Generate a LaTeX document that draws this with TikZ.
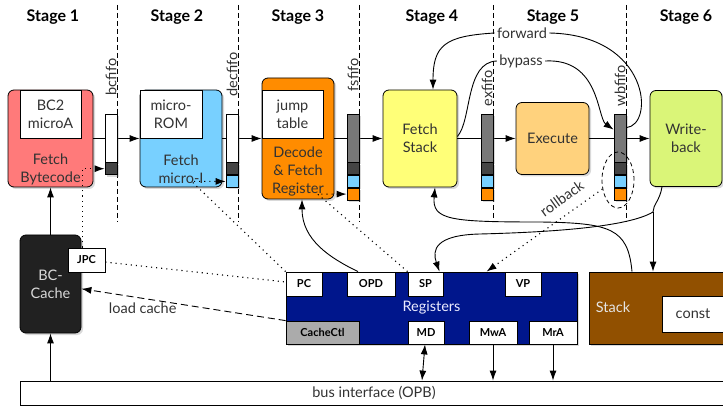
\documentclass[tikz,border=0pt]{standalone}
\usepackage{fontspec}
\setmainfont{Lato}
\usetikzlibrary{positioning, calc, shapes.geometric, shadows, arrows.meta}

\definecolor{bcred}{RGB}{255,122,122}
\definecolor{ublue}{RGB}{120,208,255}
\definecolor{decorange}{RGB}{255,140,0}
\definecolor{fsyellow}{RGB}{255,255,120}
\definecolor{exorange}{RGB}{255,210,125}
\definecolor{wbgreen}{RGB}{218,245,120}
\definecolor{regnavy}{RGB}{0,22,140}
\definecolor{stkbrown}{RGB}{145,80,0}
\definecolor{fifogray}{RGB}{120,120,120}
\definecolor{fifodark}{RGB}{68,68,68}
\definecolor{txtgray}{RGB}{50,50,50}

\tikzset{
  unit box/.style={draw, rounded corners=6pt, line width=0.8pt, text=txtgray, align=center,
    drop shadow={opacity=0.3, shadow xshift=2pt, shadow yshift=-2pt}},
  inner box/.style={draw, fill=white, line width=0.8pt, text=txtgray, align=center, inner sep=0pt},
  box text/.style={text=txtgray, align=center},
  fifo/.style={draw, line width=0.7pt, minimum width=12pt, minimum height=48pt, inner sep=0pt,
    drop shadow={opacity=0.3, shadow xshift=2pt, shadow yshift=-2pt}},
  slot/.style={draw, line width=0.7pt, minimum width=12pt, minimum height=12pt, inner sep=0pt,
    drop shadow={opacity=0.3, shadow xshift=2pt, shadow yshift=-2pt}},
  fifo label/.style={rotate=90, anchor=west, text=txtgray, inner sep=1pt},
  flow label/.style={text=txtgray, inner sep=2pt},
  reg/.style={draw, fill=white, line width=0.8pt, font=\fontsize{11}{13}\selectfont\bfseries,
    minimum height=24pt, inner sep=0pt},
  feed/.style={->, line width=1.1pt, dash pattern=on 1.1pt off 4pt},
  stage line/.style={line width=0.8pt, dash pattern=on 5pt off 3pt},
}

\begin{document}
\begin{tikzpicture}[x=1pt, y=-1pt, line width=0.9pt, font=\fontsize{14.5}{18}\selectfont,
    >={Latex[length=10pt,width=7pt]}]
  \useasboundingbox (0,0) rectangle (723,406);

  % stage titles and stage boundaries
  \foreach \x/\n in {53/1, 177/2, 298/3, 432/4, 553/5, 686/6}
    \node[font=\fontsize{16}{19}\selectfont\bfseries] (stage\n) at (\x,17) {Stage \n};
  \foreach \x in {117,238,359,493,626}
    \draw[stage line] (\x,5) -- (\x,222);

  % pipeline units
  \node[unit box, fill=bcred, minimum width=85pt, minimum height=97pt] (fb) at (50.5,138.5) {};
  \node[inner box, minimum width=61pt, minimum height=48pt] (bc2) at (50.5,114) {BC2\\microA};
  \node[box text] (fbtext) at (50.5,169) {Fetch\\Bytecode};

  \node[unit box, fill=ublue, minimum width=82pt, minimum height=97pt] (fm) at (181,138.5) {};
  \node[inner box, minimum width=62pt, minimum height=48pt] (urom) at (171,114) {micro-\\ROM};
  \node[box text] (fmtext) at (181,169) {Fetch\\micro-I};

  \node[unit box, fill=decorange, minimum width=72pt, minimum height=121pt] (dec) at (298,138.5) {};
  \node[inner box, minimum width=61pt, minimum height=48pt] (jump) at (292.5,114) {jump\\table};
  \node[box text] (dectext) at (298,171) {Decode\\\& Fetch\\Register};

  \node[unit box, fill=fsyellow, minimum width=74pt, minimum height=97pt] (fs) at (420,138.5) {Fetch\\Stack};
  \node[unit box, fill=exorange, minimum width=73pt, minimum height=72pt] (ex) at (552.5,138.5) {Execute};
  \node[unit box, fill=wbgreen, minimum width=72pt, minimum height=96pt] (wb) at (686,138.5) {Write-\\back};

  \foreach \a/\b in {fb/fm, fm/dec, dec/fs, fs/ex, ex/wb}
    \draw[->] (\a) -- (\b);

  % fifos between the stages
  \node[fifo, fill=white] (bcfifo) at (111,138) {};
  \node[slot, fill=fifodark, below=0pt of bcfifo] (bcfifo-1) {};

  \node[fifo, fill=white] (decfifo) at (232,138) {};
  \node[slot, fill=fifodark, below=0pt of decfifo] (decfifo-1) {};
  \node[slot, fill=ublue, below=0pt of decfifo-1] (decfifo-2) {};

  \foreach \f/\x in {fsfifo/353, exfifo/487, wbfifo/620} {
    \node[fifo, fill=fifogray] (\f) at (\x,138) {};
    \node[slot, fill=fifodark, below=0pt of \f] (\f-1) {};
    \node[slot, fill=ublue, below=0pt of \f-1] (\f-2) {};
    \node[slot, fill=decorange, below=0pt of \f-2] (\f-3) {};
  }

  \node[fifo label] (bclbl) at ([yshift=17pt]bcfifo.north) {bcfifo};
  \node[fifo label] (declbl) at ([yshift=16pt]decfifo.north) {decfifo};
  \node[fifo label] (fslbl) at ([yshift=21pt]fsfifo.north) {fsfifo};
  \node[fifo label] (exlbl) at ([yshift=6pt]exfifo.north) {exfifo};
  \node[fifo label] (wblbl) at ([yshift=6pt]wbfifo.north) {wbfifo};

  \node[draw, ellipse, line width=0.8pt, dash pattern=on 4pt off 3pt,
    minimum width=32pt, minimum height=56pt] (rbring) at (618,180) {};

  % forward and bypass paths
  \node[flow label] (fwdlbl) at (522,33) {forward};
  \node[flow label] (bylbl) at (521,61) {bypass};
  \draw ([yshift=-14pt]wbfifo.north east) .. controls (655,125) and (650,35) .. (fwdlbl.east);
  \draw[->] (fwdlbl.west) .. controls (445,36) and (433,45) .. ([xshift=13pt]fs.north);
  \draw ([yshift=2pt]fs.east) .. controls (472,120) and (465,62) .. (bylbl.west);
  \draw[->] (bylbl.east) .. controls (600,58) and (597,118) .. ([yshift=-16pt]wbfifo.north west);

  % cache, registers, stack and bus
  \node[unit box, fill=black!87, text=white!85!black, minimum width=61pt, minimum height=98pt] (cache) at (50.5,284) {BC-\\Cache};
  \node[reg, minimum width=37pt] (jpc) at (86.5,260) {JPC};

  \node[draw, line width=0.8pt, minimum width=708pt, minimum height=24pt, text=txtgray] (bus) at (374,393) {bus interface (OPB)};

  \node[draw, fill=regnavy, line width=0.8pt, text=blue!8!white, minimum width=291pt, minimum height=72pt,
    drop shadow={opacity=0.3, shadow xshift=2pt, shadow yshift=-2pt}] (regs) at (431.5,308) {Registers};
  \node[reg, minimum width=36pt] (pc) at (304,284) {PC};
  \node[reg, minimum width=48pt] (opd) at (371,284) {OPD};
  \node[reg, minimum width=35pt] (sp) at (425.5,284) {SP};
  \node[reg, minimum width=36pt] (vp) at (523,284) {VP};
  \node[reg, fill=black!33, minimum width=73pt, minimum height=23pt] (cachectl) at (322.5,332.5) {CacheCtl};
  \node[reg, minimum width=36pt, minimum height=23pt] (md) at (426,332.5) {MD};
  \node[reg, minimum width=48pt, minimum height=23pt] (mwa) at (493,332.5) {MwA};
  \node[reg, minimum width=48pt, minimum height=23pt] (mra) at (553,332.5) {MrA};

  \node[draw, fill=stkbrown, line width=0.8pt, minimum width=136pt, minimum height=72pt,
    drop shadow={opacity=0.3, shadow xshift=2pt, shadow yshift=-2pt}] (stack) at (657,308) {};
  \node[text=white!90!black] (stacklbl) at (613,307) {Stack};
  \node[draw, fill=white, line width=0.8pt, text=txtgray, minimum width=62pt, minimum height=36pt] (const) at (693,314) {const};

  % register feeds into the fifos
  \draw[feed] ([xshift=-4pt]jpc.north) |- (bcfifo-1.west);
  \draw[feed] (pc.north west) -- ([xshift=-34pt]decfifo-2.west) -- (decfifo-2.west);
  \draw[feed] (sp.north west) -- ([xshift=-29pt]fsfifo-3.west) -- (fsfifo-3.west);
  \draw[line width=1.1pt, dash pattern=on 1.1pt off 4pt] (jpc) -- (pc);
  \draw[feed] (rbring.210) -- node[sloped, above=8pt, pos=0.27, flow label] (rblbl) {rollback} ([xshift=55pt]regs.north);

  % cache and register connections
  \draw[->] (cache) -- (fb);
  \draw[->] (cache |- bus.north) -- (cache);
  \draw[->, dash pattern=on 7pt off 4pt] (cachectl.north west) -- node[pos=0.7, below=2pt, flow label] (lclbl) {load cache} (cache);
  \draw[->] ([xshift=-13pt]opd.north) .. controls (330,258) and (302,240) .. ([xshift=4pt]dec.south);

  % stack and write-back paths
  \draw[->] ([xshift=-25pt]stack.north) .. controls (628,228) and (610,223) .. (540,222)
    .. controls (450,222) and (432,220) .. ([xshift=15pt]fs.south);
  \coordinate (wbsplit) at (653,212);
  \draw ([xshift=-24pt]wb.south) .. controls (660,200) and (653,205) .. (wbsplit);
  \draw[->] (wbsplit) -- (wbsplit |- stack.north);
  \draw[->] (wbsplit) .. controls (630,226) and (560,232) .. (480,234)
    .. controls (435,235) and (432,250) .. ([xshift=14pt]sp.north);

  % memory side
  \draw[<->] (md) -- ($(md.south |- bus.north)+(-4,0)$);
  \draw[->] (mwa) -- (mwa |- bus.north);
  \draw[->] (mra) -- (mra |- bus.north);
\end{tikzpicture}
\end{document}
